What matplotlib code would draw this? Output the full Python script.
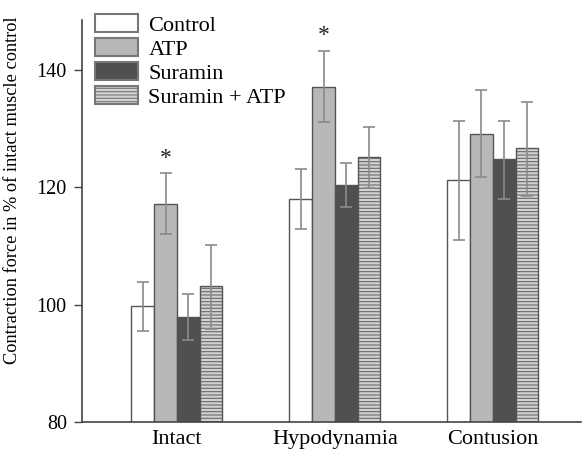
import matplotlib
matplotlib.use("Agg")
import matplotlib.pyplot as plt
import numpy as np

plt.rcParams['font.family'] = ['Liberation Serif', 'DejaVu Serif']
plt.rcParams['hatch.linewidth'] = 0.8

groups = ["Intact", "Hypodynamia", "Contusion"]
series = ["Control", "ATP", "Suramin", "Suramin + ATP"]
values = {
    "Control":       [99.7, 118.0, 121.2],
    "ATP":           [117.2, 137.2, 129.1],
    "Suramin":       [97.9, 120.4, 124.8],
    "Suramin + ATP": [103.1, 125.2, 126.7],
}
err_hi = {
    "Control":       [103.8, 123.1, 131.4],
    "ATP":           [122.4, 143.3, 136.6],
    "Suramin":       [101.8, 124.1, 131.3],
    "Suramin + ATP": [110.1, 130.3, 134.6],
}
err_lo = {
    "Control":       [95.5, 112.9, 111.0],
    "ATP":           [112.0, 131.1, 121.8],
    "Suramin":       [93.9, 116.7, 118.0],
    "Suramin + ATP": [95.9, 119.9, 118.5],
}
significant = {"ATP": [True, True, False]}
yticks = [80, 100, 120, 140]

faces = {"Control": "white", "ATP": "#b8b8ba", "Suramin": "#505052", "Suramin + ATP": "#d2d2d2"}
hatches = {"Control": None, "ATP": None, "Suramin": None, "Suramin + ATP": "-----"}

fig = plt.figure(figsize=(5.82, 4.55), dpi=100)
ax = fig.add_axes([0.141, 0.073, 0.857, 0.882])

x = np.arange(len(groups))
w = 0.144
offsets = [-1.5, -0.5, 0.5, 1.5]
for s, off in zip(series, offsets):
    vals = np.array(values[s])
    hi = np.array(err_hi[s]) - vals
    lo = vals - np.array(err_lo[s])
    bars = ax.bar(x + off * w, vals, w, bottom=0, color=faces[s], edgecolor="#555555",
                  linewidth=1.0, hatch=hatches[s], label=s, zorder=2)
    for b in bars:
        b._hatch_color = matplotlib.colors.to_rgba("#6a6a6a")
    ax.errorbar(x + off * w, vals, yerr=[lo, hi], fmt='none', ecolor="#8a8a8a",
                elinewidth=1.2, capsize=4, capthick=1.2, zorder=3)
    if s in significant:
        for i, sig in enumerate(significant[s]):
            if sig:
                ax.text(x[i] + off * w, err_hi[s][i] + 0.8, "*", ha="center", va="bottom",
                        fontsize=17, color="#222222")

ax.set_ylim(80, 148.5)
ax.set_xlim(-0.601, 2.557)
ax.set_yticks(yticks)
ax.set_yticklabels([str(t) for t in yticks], fontsize=14.5)
ax.set_xticks(x)
ax.set_xticklabels(groups, fontsize=16)
ax.tick_params(axis='x', length=0, pad=6)
ax.tick_params(axis='y', length=6, width=1.0, color="#444444", pad=5)
for sp in ["top", "right"]:
    ax.spines[sp].set_visible(False)
for sp in ["left", "bottom"]:
    ax.spines[sp].set_color("#444444")
    ax.spines[sp].set_linewidth(1.2)
ax.set_ylabel("Contraction force in % of intact muscle control", fontsize=13.2)
ax.yaxis.set_label_coords(-0.123, 0.577)

leg = ax.legend(loc="upper left", bbox_to_anchor=(0.026, 1.017), frameon=False, fontsize=16,
                handlelength=1.95, handleheight=0.9, handletextpad=0.45, labelspacing=0.1,
                borderaxespad=0.0, borderpad=0.0)
for p in leg.get_patches():
    p.set_edgecolor("#777777")
    p.set_linewidth(1.5)

fig.savefig("out.png", dpi=100)
